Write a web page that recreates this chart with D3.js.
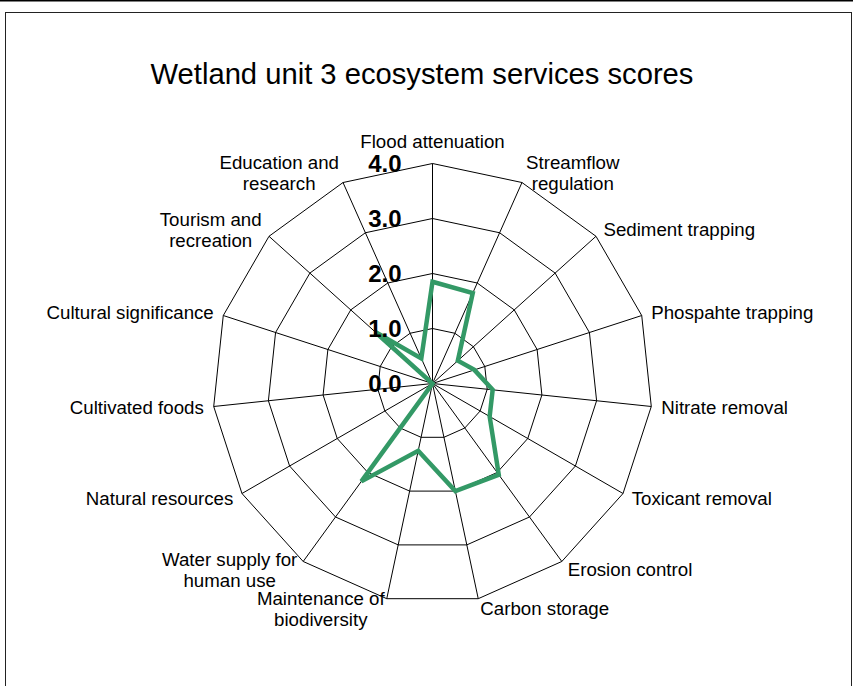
<!DOCTYPE html>
<html>
<head>
<meta charset="utf-8">
<script src="https://cdn.jsdelivr.net/npm/d3@7"></script>
<style>
  html, body { margin: 0; padding: 0; background: #fff; }
  svg { display: block; }
</style>
</head>
<body>
<svg id="chart" width="853" height="686"></svg>
<script>
// ---- data ----
const title = "Wetland unit 3 ecosystem services scores";
const categories = [
  "Flood attenuation",
  "Streamflow\nregulation",
  "Sediment trapping",
  "Phospahte trapping",
  "Nitrate removal",
  "Toxicant removal",
  "Erosion control",
  "Carbon storage",
  "Maintenance of\nbiodiversity",
  "Water supply for\nhuman use",
  "Natural resources",
  "Cultivated foods",
  "Cultural significance",
  "Tourism and\nrecreation",
  "Education and\nresearch"
];
const scores = [1.85, 1.8, 0.62, 0.8, 1.1, 1.2, 2.05, 2.0, 1.25, 2.2, 0, 0, 0, 1.4, 0.5];
const tickValues = [0, 1, 2, 3, 4];
const tickLabels = ["0.0", "1.0", "2.0", "3.0", "4.0"];

// ---- layout ----
const W = 853, H = 686;
const cx = 432.5, cy = 383.5, R = 220;
const svg = d3.select("#chart");

// frame
svg.append("line").attr("x1", 0).attr("x2", W).attr("y1", 0.5).attr("y2", 0.5)
  .attr("stroke", "#000").attr("stroke-width", 2);
svg.append("rect").attr("x", 5.5).attr("y", 12.5).attr("width", 846).attr("height", 700)
  .attr("fill", "none").attr("stroke", "#222").attr("stroke-width", 1);

// title
svg.append("text").attr("x", 422).attr("y", 84)
  .attr("text-anchor", "middle")
  .attr("font-family", "'Liberation Sans', Arial, sans-serif")
  .attr("font-size", 29.2).attr("fill", "#000").text(title);

const r = d3.scaleLinear().domain([0, 4]).range([0, R]);
const n = categories.length;
const angle = i => i * 2 * Math.PI / n;

const g = svg.append("g").attr("transform", `translate(${cx},${cy})`);

// rings
const ringLine = d3.lineRadial().angle((d, i) => angle(i)).radius(d => r(d)).curve(d3.curveLinearClosed);
tickValues.filter(v => v > 0).forEach(v => {
  g.append("path").attr("d", ringLine(categories.map(() => v)))
    .attr("fill", "none").attr("stroke", "#000").attr("stroke-width", 1);
});

// spokes
categories.forEach((c, i) => {
  const a = angle(i);
  g.append("line").attr("x1", 0).attr("y1", 0)
    .attr("x2", r(4) * Math.sin(a)).attr("y2", -r(4) * Math.cos(a))
    .attr("stroke", "#000").attr("stroke-width", 1);
});

// data line
g.append("path").attr("d", ringLine(scores))
  .attr("fill", "none").attr("stroke", "#339966").attr("stroke-width", 4.5)
  .attr("stroke-linejoin", "miter");

// tick labels
tickValues.forEach((v, k) => {
  g.append("text").attr("x", -31).attr("y", -r(v))
    .attr("dy", "0.36em").attr("text-anchor", "end")
    .attr("font-family", "'Liberation Sans', Arial, sans-serif")
    .attr("font-weight", "bold").attr("font-size", 24)
    .attr("fill", "#000").text(tickLabels[k]);
});

// category labels
const fs = 18.7, lh = 21;
categories.forEach((c, i) => {
  const a = angle(i);
  const s = Math.sin(a), co = Math.cos(a);
  const rl = r(4) + 10;
  const px = rl * s, py = -rl * co;
  const lines = c.split("\n");
  const t = g.append("text")
    .attr("font-family", "'Liberation Sans', Arial, sans-serif")
    .attr("font-size", fs).attr("fill", "#000").attr("text-anchor", "middle");
  const spans = lines.map(l => t.append("tspan").text(l));
  const widths = spans.map(sp => sp.node().getComputedTextLength());
  const bw = d3.max(widths);
  let bx;
  if (Math.abs(s) < 0.1) bx = px;
  else if (s > 0) bx = px + bw / 2;
  else bx = px - bw / 2;
  let firstBase;
  if (Math.abs(s) < 0.1) {
    firstBase = py - 6 - (lines.length - 1) * lh;
  } else {
    firstBase = py - (lines.length - 1) * lh / 2 + 0.35 * fs;
  }
  spans.forEach((sp, k) => sp.attr("x", bx).attr("y", firstBase + k * lh));
});
</script>
</body>
</html>
